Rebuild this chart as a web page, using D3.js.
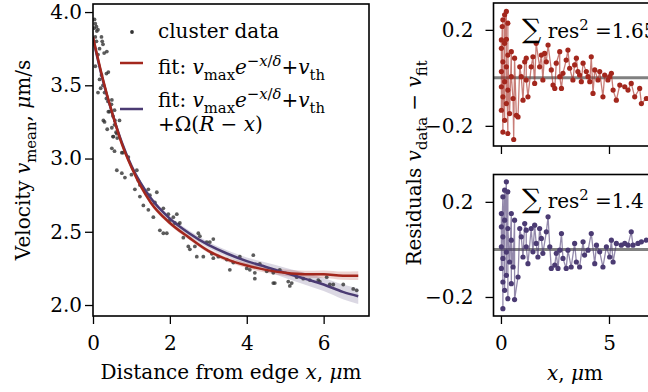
<!DOCTYPE html>
<html>
<head>
<meta charset="utf-8">
<script src="https://cdn.jsdelivr.net/npm/d3@7"></script>
<style>
  body { margin: 0; background: #fff; }
  svg { display: block; font-family: "DejaVu Serif", serif; }
</style>
</head>
<body>
<script>
// cluster data
const clusterX = [0.03, 0.04, 0.06, 0.06, 0.06, 0.09, 0.09, 0.1, 0.13, 0.13, 0.13, 0.17, 0.17, 0.2, 0.22, 0.22,
  0.24, 0.26, 0.26, 0.27, 0.29, 0.3, 0.3, 0.35, 0.35, 0.36, 0.37, 0.39, 0.4, 0.4, 0.43, 0.48, 0.49, 0.49, 0.49,
  0.52, 0.52, 0.53, 0.56, 0.56, 0.56, 0.57, 0.6, 0.62, 0.62, 0.63, 0.69, 0.75, 0.75, 0.78, 0.83, 0.92, 1.0, 1.09,
  1.14, 1.18, 1.22, 1.22, 1.31, 1.44, 1.44, 1.48, 1.57, 1.61, 1.66, 1.74, 1.83, 1.83, 1.92, 1.96, 2.0, 2.09, 2.13,
  2.18, 2.22, 2.26, 2.35, 2.48, 2.52, 2.65, 2.7, 2.74, 2.78, 2.87, 2.96, 3.04, 3.09, 3.13, 3.13, 3.26, 3.48, 3.56,
  3.65, 3.82, 4.0, 4.08, 4.17, 4.21, 4.21, 4.34, 4.52, 4.69, 4.69, 4.73, 4.86, 5.08, 5.12, 5.17, 5.3, 5.47, 5.64,
  5.86, 5.9, 6.08, 6.16, 6.25, 6.51, 6.77, 6.86];
const clusterV = [3.89, 3.95, 3.92, 3.83, 3.63, 3.90, 3.80, 3.87, 3.88, 3.71, 3.45, 3.75, 3.54, 3.48, 3.83, 3.57,
  3.80, 3.78, 3.50, 3.26, 3.72, 3.45, 3.25, 3.58, 3.41, 3.73, 3.20, 3.39, 3.59, 3.32, 3.32, 3.37, 3.40, 3.21, 3.07,
  3.29, 3.15, 3.15, 3.33, 3.23, 3.05, 3.26, 3.18, 3.17, 2.92, 3.14, 3.26, 3.04, 2.90, 3.04, 2.87, 3.01, 2.89, 2.79,
  2.92, 2.85, 2.82, 2.74, 2.68, 2.79, 2.65, 2.75, 2.60, 2.70, 2.77, 2.51, 2.66, 2.49, 2.49, 2.62, 2.58, 2.60, 2.56,
  2.62, 2.55, 2.56, 2.46, 2.40, 2.38, 2.40, 2.33, 2.49, 2.47, 2.33, 2.43, 2.43, 2.35, 2.45, 2.32, 2.33, 2.31, 2.24,
  2.29, 2.33, 2.25, 2.24, 2.34, 2.22, 2.18, 2.28, 2.23, 2.22, 2.15, 2.15, 2.24, 2.16, 2.13, 2.15, 2.19, 2.18, 2.17,
  2.17, 2.16, 2.19, 2.14, 2.14, 2.14, 2.11, 2.10];

// fitted curves, sampled along x
const fitX = [0, 0.25, 0.5, 0.75, 1, 1.5, 2, 2.5, 3, 3.5, 4, 4.5, 5, 5.5, 6, 6.5, 6.9];
const fitExp = [3.83, 3.55, 3.31, 3.10, 2.94, 2.70, 2.56, 2.46, 2.37, 2.31, 2.27, 2.24, 2.22, 2.21, 2.21, 2.20, 2.20];
const fitExpBand = [0.04, 0.03, 0.025, 0.02, 0.018, 0.015, 0.015, 0.015, 0.015, 0.016, 0.018, 0.02, 0.022, 0.024, 0.026, 0.028, 0.03];
const fitLin = [3.82, 3.54, 3.31, 3.11, 2.95, 2.73, 2.59, 2.49, 2.41, 2.35, 2.30, 2.26, 2.22, 2.18, 2.14, 2.09, 2.06];
const fitLinBand = [0.04, 0.03, 0.025, 0.02, 0.018, 0.016, 0.016, 0.018, 0.02, 0.022, 0.025, 0.03, 0.035, 0.04, 0.045, 0.05, 0.053];

// residuals of the exponential fit
const resExpX = [0.02, 0.02, 0.02, 0.02, 0.02, 0.06, 0.09, 0.09, 0.09, 0.09, 0.17, 0.17, 0.17, 0.17, 0.25, 0.25,
  0.25, 0.25, 0.32, 0.32, 0.32, 0.32, 0.4, 0.48, 0.48, 0.56, 0.59, 0.63, 0.71, 0.79, 0.87, 0.94, 1.02, 1.1, 1.17,
  1.17, 1.25, 1.4, 1.48, 1.56, 1.63, 1.79, 1.87, 1.94, 2.02, 2.1, 2.18, 2.33, 2.41, 2.49, 2.56, 2.72, 2.72, 2.8,
  2.87, 3.02, 3.1, 3.18, 3.33, 3.41, 3.49, 3.56, 3.64, 3.72, 3.8, 3.95, 4.03, 4.11, 4.18, 4.26, 4.34, 4.49, 4.57,
  4.72, 4.8, 4.95, 5.03, 5.11, 5.19, 5.34, 5.5, 5.73, 5.88, 6.03, 6.19, 6.42, 6.5, 6.73];
const resExp = [0.158, -0.135, 0.123, -0.037, 0.026, 0.214, -0.226, 0.242, -0.079, 0.067, -0.177, 0.263, -0.016,
  0.144, 0.277, -0.107, 0.161, 0.046, -0.232, 0.228, -0.051, 0.095, -0.149, 0.109, 0.005, -0.086, -0.257, 0.082,
  -0.156, -0.163, 0.046, 0.005, -0.093, 0.067, 0.082, -0.009, -0.079, 0.046, 0.088, -0.023, 0.144, 0.046, 0.095,
  -0.009, 0.102, 0.067, 0.137, 0.033, -0.03, -0.044, 0.061, 0.109, 0.005, -0.044, 0.019, 0.074, 0.116, 0.04,
  -0.009, 0.054, 0.082, 0.026, 0.012, -0.016, 0.061, 0.026, 0.005, -0.016, 0.088, -0.065, 0.033, -0.009, 0.026,
  -0.079, 0.012, -0.009, 0.005, 0.019, -0.051, -0.093, -0.03, -0.037, -0.051, -0.023, -0.079, -0.044, -0.107, -0.086];

// residuals of the exponential + linear fit
const resLinX = [0.02, 0.02, 0.02, 0.02, 0.09, 0.09, 0.09, 0.09, 0.09, 0.17, 0.17, 0.17, 0.25, 0.25, 0.25, 0.32,
  0.32, 0.32, 0.4, 0.48, 0.48, 0.48, 0.56, 0.63, 0.63, 0.79, 0.87, 0.94, 1.02, 1.1, 1.17, 1.17, 1.25, 1.4, 1.48,
  1.56, 1.63, 1.71, 1.79, 1.87, 1.94, 2.1, 2.18, 2.26, 2.33, 2.49, 2.56, 2.64, 2.72, 2.8, 2.87, 3.02, 3.1, 3.25,
  3.41, 3.49, 3.64, 3.8, 3.87, 4.03, 4.18, 4.34, 4.42, 4.57, 4.72, 4.88, 5.03, 5.11, 5.19, 5.34, 5.57, 5.73, 5.88,
  6.03, 6.11, 6.34, 6.5, 6.73];
const resLin = [0.151, -0.08, 0.095, 0.011, 0.221, -0.249, 0.053, -0.137, -0.038, 0.249, -0.172, 0.123, 0.284,
  -0.109, -0.011, 0.242, -0.207, 0.088, -0.053, 0.151, -0.144, 0.039, -0.074, 0.123, -0.211, -0.116, 0.088, 0.053,
  -0.032, 0.109, 0.081, 0.011, -0.06, 0.088, -0.01, 0.102, 0.025, -0.032, 0.088, 0.046, -0.017, 0.074, 0.137,
  0.011, -0.08, -0.066, -0.017, -0.08, -0.003, 0.067, -0.038, -0.08, -0.003, -0.074, 0.025, -0.053, -0.074, 0.032,
  -0.024, -0.003, 0.067, -0.06, 0.018, -0.01, -0.074, 0.011, -0.032, 0.039, -0.053, 0.025, 0.018, 0.025, 0.018,
  0.074, 0.018, 0.025, 0.032, 0.039];

const sumRes = ["1.65", "1.4"];
const mainXTicks = [0, 2, 4, 6];
const mainYTicks = [2.0, 2.5, 3.0, 3.5, 4.0];
const resXTicks = [0, 5];
const resYTicks = [-0.2, 0.2];

const RED = "#a3271d";
const PURPLE = "#4b3b73";
const FS = 20;

const svg = d3.select("body").append("svg")
  .attr("width", 648)
  .attr("height", 392);

// rich text: parts with italic / sub / sup
function rich(sel, parts, size) {
  let shift = 0;
  parts.forEach(p => {
    const s = p.sub ? 0.28 : p.sup ? -0.4 : 0;
    sel.append("tspan")
      .attr("dy", ((s - shift) * size).toFixed(1))
      .attr("font-style", p.i ? "italic" : null)
      .attr("font-size", (p.sub || p.sup) ? size * 0.74 : size)
      .text(p.t);
    shift = s;
  });
  return sel;
}

function styleAxis(g) {
  g.select(".domain").remove();
  g.attr("font-size", FS).attr("font-family", "DejaVu Serif");
  g.selectAll(".tick line").attr("stroke-width", 1.3);
  g.selectAll(".tick text").attr("fill", "#000");
}

// ---------- main panel ----------
const x = d3.scaleLinear().domain([0, 7.18]).range([93, 369]);
const y = d3.scaleLinear().domain([1.925, 4.055]).range([316, 4]);

svg.append("defs").append("clipPath").attr("id", "clipMain")
  .append("rect").attr("x", 93).attr("y", 4).attr("width", 276).attr("height", 312);

const plot = svg.append("g").attr("clip-path", "url(#clipMain)");

const fits = [
  { v: fitLin, band: fitLinBand, color: PURPLE },
  { v: fitExp, band: fitExpBand, color: RED }
];

fits.forEach(f => {
  plot.append("path")
    .datum(fitX)
    .attr("fill", f.color)
    .attr("fill-opacity", 0.2)
    .attr("d", d3.area()
      .x(d => x(d))
      .y0((d, i) => y(f.v[i] - f.band[i]))
      .y1((d, i) => y(f.v[i] + f.band[i]))
      .curve(d3.curveMonotoneX));
});

plot.selectAll("circle.pt")
  .data(clusterX)
  .enter()
  .append("circle")
  .attr("class", "pt")
  .attr("cx", d => x(d))
  .attr("cy", (d, i) => y(clusterV[i]))
  .attr("r", 1.9)
  .attr("fill", "#333")
  .attr("fill-opacity", 0.8);

fits.forEach(f => {
  plot.append("path")
    .datum(fitX)
    .attr("fill", "none")
    .attr("stroke", f.color)
    .attr("stroke-width", 2.5)
    .attr("d", d3.line()
      .x(d => x(d))
      .y((d, i) => y(f.v[i]))
      .curve(d3.curveMonotoneX));
});

svg.append("g")
  .attr("transform", "translate(0,316)")
  .call(d3.axisBottom(x).tickValues(mainXTicks).tickFormat(d3.format("d")).tickSize(8).tickPadding(12))
  .call(styleAxis);

svg.append("g")
  .attr("transform", "translate(93,0)")
  .call(d3.axisLeft(y).tickValues(mainYTicks).tickFormat(d3.format(".1f")).tickSize(8).tickPadding(3))
  .call(styleAxis);

svg.append("rect")
  .attr("x", 93).attr("y", 4).attr("width", 276).attr("height", 312)
  .attr("fill", "none").attr("stroke", "#000").attr("stroke-width", 1.6);

// legend
const leg = svg.append("g");
leg.append("circle").attr("cx", 132).attr("cy", 32).attr("r", 1.9).attr("fill", "#333");
leg.append("line").attr("x1", 120).attr("x2", 143).attr("y1", 63).attr("y2", 63)
  .attr("stroke", RED).attr("stroke-width", 2.5);
leg.append("line").attr("x1", 120).attr("x2", 143).attr("y1", 109).attr("y2", 109)
  .attr("stroke", PURPLE).attr("stroke-width", 2.5);

const fitLabel = [
  { t: "fit: " }, { t: "v", i: 1 }, { t: "max", sub: 1 }, { t: "e", i: 1 },
  { t: "−", sup: 1 }, { t: "x", i: 1, sup: 1 }, { t: "/", sup: 1 }, { t: "δ", i: 1, sup: 1 },
  { t: "+" }, { t: "v", i: 1 }, { t: "th", sub: 1 }
];
leg.append("text").attr("x", 158).attr("y", 38).attr("font-size", FS).text("cluster data");
rich(leg.append("text").attr("x", 158).attr("y", 74).attr("font-size", FS), fitLabel, FS);
rich(leg.append("text").attr("x", 158).attr("y", 107).attr("font-size", FS), fitLabel, FS);
rich(leg.append("text").attr("x", 158).attr("y", 131).attr("font-size", FS),
  [{ t: "+Ω(" }, { t: "R", i: 1 }, { t: " − " }, { t: "x", i: 1 }, { t: ")" }], FS);

// axis labels
rich(svg.append("text").attr("font-size", FS).attr("text-anchor", "middle")
  .attr("transform", "translate(30,160) rotate(-90)"),
  [{ t: "Velocity " }, { t: "v", i: 1 }, { t: "mean", sub: 1 }, { t: ", " }, { t: "μ", i: 1 }, { t: "m/s" }], FS);

rich(svg.append("text").attr("font-size", FS).attr("text-anchor", "middle")
  .attr("x", 231).attr("y", 379),
  [{ t: "Distance from edge " }, { t: "x", i: 1 }, { t: ", " }, { t: "μ", i: 1 }, { t: "m" }], FS);

// ---------- residual panels ----------
const xr = d3.scaleLinear().domain([-0.345, 7.245]).range([493.5, 657.5]);

const panels = [
  { top: 3, bottom: 146, dom: [-0.284, 0.312], rx: resExpX, r: resExp, color: RED, sum: sumRes[0], sumY: 36, ticks: false },
  { top: 174.5, bottom: 316, dom: [-0.28, 0.315], rx: resLinX, r: resLin, color: PURPLE, sum: sumRes[1], sumY: 206, ticks: true }
];

panels.forEach((p, k) => {
  const yr = d3.scaleLinear().domain(p.dom).range([p.bottom, p.top]);
  const h = p.bottom - p.top;

  svg.select("defs").append("clipPath").attr("id", "clipRes" + k)
    .append("rect").attr("x", 493.5).attr("y", p.top).attr("width", 164).attr("height", h);

  const g = svg.append("g").attr("clip-path", "url(#clipRes" + k + ")");

  g.append("line")
    .attr("x1", 493.5).attr("x2", 657.5)
    .attr("y1", yr(0)).attr("y2", yr(0))
    .attr("stroke", "#808080").attr("stroke-width", 3);

  g.append("path")
    .datum(p.rx)
    .attr("fill", "none")
    .attr("stroke", p.color)
    .attr("stroke-opacity", 0.6)
    .attr("stroke-width", 1.3)
    .attr("d", d3.line().x(d => xr(d)).y((d, i) => yr(p.r[i])));

  g.selectAll("circle")
    .data(p.rx)
    .enter()
    .append("circle")
    .attr("cx", d => xr(d))
    .attr("cy", (d, i) => yr(p.r[i]))
    .attr("r", 2.6)
    .attr("fill", p.color);

  svg.append("g")
    .attr("transform", "translate(493.5,0)")
    .call(d3.axisLeft(yr).tickValues(resYTicks).tickFormat(d3.format(".1f")).tickSize(8).tickPadding(12))
    .call(styleAxis);

  const ax = svg.append("g")
    .attr("transform", "translate(0," + p.bottom + ")")
    .call(d3.axisBottom(xr).tickValues(resXTicks).tickFormat(d3.format("d")).tickSize(8).tickPadding(12))
    .call(styleAxis);
  if (!p.ticks) ax.selectAll(".tick text").remove();

  svg.append("rect")
    .attr("x", 493.5).attr("y", p.top).attr("width", 164).attr("height", h)
    .attr("fill", "none").attr("stroke", "#000").attr("stroke-width", 1.6);

  const t = svg.append("text").attr("x", 522).attr("y", p.sumY).attr("font-size", FS);
  t.append("tspan").attr("font-size", 27).attr("dy", 2).text("∑");
  rich(t.append("tspan").attr("dy", -2), [{ t: " res" }, { t: "2", sup: 1 }, { t: " =" + p.sum }], FS);
});

rich(svg.append("text").attr("font-size", FS).attr("text-anchor", "middle")
  .attr("transform", "translate(421,163) rotate(-90)"),
  [{ t: "Residuals " }, { t: "v", i: 1 }, { t: "data", sub: 1 }, { t: " − " }, { t: "v", i: 1 }, { t: "fit", sub: 1 }], FS);

rich(svg.append("text").attr("font-size", FS).attr("text-anchor", "middle")
  .attr("x", 575).attr("y", 380),
  [{ t: "x", i: 1 }, { t: ", " }, { t: "μ", i: 1 }, { t: "m" }], FS);
</script>
</body>
</html>
